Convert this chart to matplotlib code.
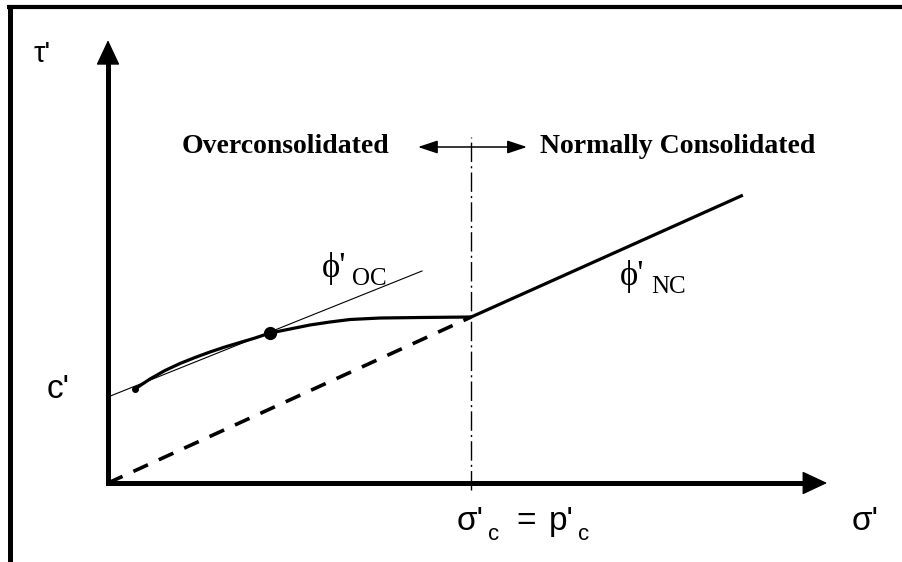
import matplotlib
matplotlib.use("Agg")
import matplotlib.pyplot as plt
from matplotlib.lines import Line2D

plt.rcParams['lines.scale_dashes'] = False

# ---------------- data (schematic stress units, sigma'_c = 10) ----------------
sigma_c = 10.0
tau_yield = 4.57
c_prime = 2.37
# measured overconsolidated envelope (curved)
oc_sigma = [0.744, 1.157, 1.570, 1.983, 2.397, 2.810, 3.223, 3.636, 4.050, 4.463,
            5.014, 5.565, 6.116, 6.667, 7.493, 8.595, 10.0]
oc_tau = [2.590, 2.865, 3.099, 3.292, 3.457, 3.609, 3.747, 3.871, 3.994, 4.132,
          4.242, 4.353, 4.435, 4.504, 4.545, 4.559, 4.573]
# tangent (phi'_OC) line
tan_sigma = [0.0, 8.65]
tan_tau = [c_prime, 5.84]
# tangent point
pt_sigma = [4.463]
pt_tau = [4.132]
# normally consolidated line (phi'_NC)
nc_sigma = [sigma_c, 17.49]
nc_tau = [tau_yield, 7.93]
# NC line projected back to origin (dashed)
proj_sigma = [0.0, sigma_c]
proj_tau = [0.0, tau_yield]
# axis extents
sigma_axis_max = 19.81
tau_axis_max = 12.20
# region marker (double arrow) and vertical line extents
region_arrow_sigma = [8.54, 11.54]
region_arrow_tau = 9.256
vline_tau = [-0.19, 9.53]

labels_region = ["Overconsolidated", "Normally Consolidated"]

# ---------------- layout ----------------
W, H, DPI = 902, 562, 100
S = 36.3          # pixels per unit
OX, OY = 108, 483  # origin in pixels

def P(px, py):
    return ((px - OX) / S, (OY - py) / S)

sans = ['Liberation Sans', 'DejaVu Sans']
serif = ['Liberation Serif', 'DejaVu Serif']

fig = plt.figure(figsize=(W / DPI, H / DPI), dpi=DPI)
ax = fig.add_axes([0, 0, 1, 1])
ax.set_xlim(-OX / S, (W - OX) / S)
ax.set_ylim((OY - H) / S, OY / S)
ax.axis('off')

# outer frame (top and left edges visible)
fig.add_artist(Line2D([7 / W, 1.0], [1 - 7 / H, 1 - 7 / H], transform=fig.transFigure,
                      color='black', lw=3.0, solid_capstyle='butt'))
fig.add_artist(Line2D([9.5 / W, 9.5 / W], [0, 1 - 5 / H], transform=fig.transFigure,
                      color='black', lw=3.6, solid_capstyle='butt'))

# axes with arrowheads
axis_lw = 3.6
ax.plot([0, 0], [0, tau_axis_max - 0.5], color='black', lw=axis_lw, solid_capstyle='projecting', zorder=3)
ax.plot([0, sigma_axis_max - 0.5], [0, 0], color='black', lw=axis_lw, solid_capstyle='projecting', zorder=3)
head = dict(arrowstyle='-|>,head_length=1.6,head_width=0.75', lw=1.0, color='black',
            mutation_scale=10, shrinkA=0, shrinkB=0)
ax.annotate('', xy=(0, tau_axis_max), xytext=(0, tau_axis_max - 0.8), arrowprops=head, zorder=4)
ax.annotate('', xy=(sigma_axis_max, 0), xytext=(sigma_axis_max - 0.8, 0), arrowprops=head, zorder=4)

# vertical dash-dot line at sigma'_c
ax.plot([sigma_c, sigma_c], vline_tau, color='black', lw=1.0,
        linestyle=(0, (14, 3, 1.5, 3)), zorder=2)

# double-headed region arrow
ax.annotate('', xy=(region_arrow_sigma[0], region_arrow_tau),
            xytext=(region_arrow_sigma[1], region_arrow_tau),
            arrowprops=dict(arrowstyle='<|-|>,head_length=1.2,head_width=0.4', lw=1.1,
                            color='black', mutation_scale=10, shrinkA=0, shrinkB=0))

# tangent line
ax.plot(tan_sigma, tan_tau, color='black', lw=0.8, zorder=2)
# dashed projection of NC line
ax.plot(proj_sigma, proj_tau, color='black', lw=2.6, linestyle=(0, (11.5, 8.6)),
        dash_capstyle='butt', zorder=2)
# OC curved envelope
ax.plot(oc_sigma, oc_tau, color='black', lw=2.3, solid_joinstyle='round',
        solid_capstyle='round', zorder=3)
ax.plot(oc_sigma[:1], oc_tau[:1], 'o', color='black', ms=4, zorder=3)
# tangent point
ax.plot(pt_sigma, pt_tau, 'o', color='black', ms=8.5, zorder=4)
# NC line
ax.plot(nc_sigma, nc_tau, color='black', lw=2.3, solid_capstyle='butt', zorder=3)

# ---------------- text ----------------
ax.text(*P(34, 62), "τ'", family=sans, fontsize=21, ha='left', va='baseline')
ax.text(*P(47, 398), "c'", family=sans, fontsize=24, ha='left', va='baseline')
ax.text(*P(852, 530), "σ'", family=sans, fontsize=24, ha='left', va='baseline')

# sigma'_c = p'_c
ax.text(*P(457, 530), "σ'", family=sans, fontsize=24, ha='left', va='baseline')
ax.text(*P(488, 540), "c", family=sans, fontsize=16, ha='left', va='baseline')
ax.text(*P(516, 530), "=", family=sans, fontsize=24, ha='left', va='baseline')
ax.text(*P(549, 530), "p'", family=sans, fontsize=24, ha='left', va='baseline')
ax.text(*P(578, 540), "c", family=sans, fontsize=16, ha='left', va='baseline')

# phi labels
ax.text(*P(322, 277), "ϕ'", family=serif, fontsize=25, ha='left', va='baseline')
ax.text(*P(352, 285), "OC", family=serif, fontsize=18, ha='left', va='baseline')
ax.text(*P(620, 285), "ϕ'", family=serif, fontsize=25, ha='left', va='baseline')
ax.text(*P(651, 293), "NC", family=serif, fontsize=18, ha='left', va='baseline')

# region labels
ax.text(*P(182, 153), labels_region[0], family=serif, fontsize=20, fontweight='bold',
        ha='left', va='baseline')
ax.text(*P(540, 153), labels_region[1], family=serif, fontsize=20, fontweight='bold',
        ha='left', va='baseline')

fig.savefig('out.png', dpi=DPI, facecolor='white')
